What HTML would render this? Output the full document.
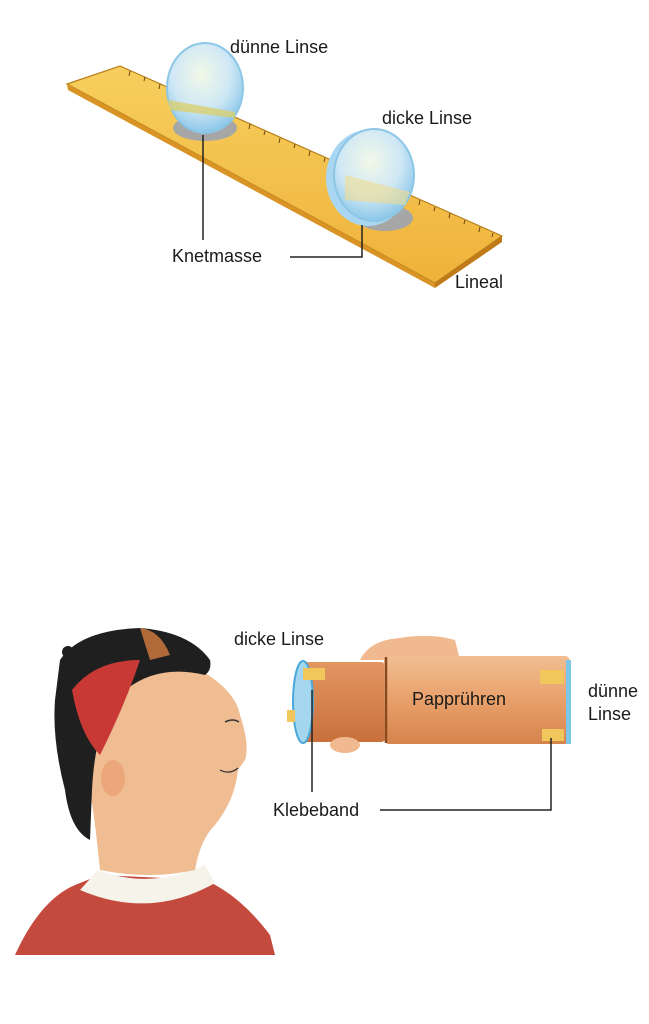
<!DOCTYPE html>
<html><head><meta charset="utf-8"><style>
html,body{margin:0;padding:0;background:#fff;}
svg{display:block}
text{font-family:"Liberation Sans",sans-serif;font-size:18px;fill:#1a1a1a;}
</style></head><body>
<svg width="649" height="1024" viewBox="0 0 649 1024" xmlns="http://www.w3.org/2000/svg">
<defs>
<linearGradient id="rul" x1="0" y1="0" x2="0" y2="1"><stop offset="0" stop-color="#f7cf5e"/><stop offset="1" stop-color="#efb23a"/></linearGradient>
<radialGradient id="lens" cx="0.45" cy="0.35" r="0.7"><stop offset="0" stop-color="#f2f8e8"/><stop offset="0.55" stop-color="#cfe8f5"/><stop offset="1" stop-color="#7fc0e6"/></radialGradient>
<linearGradient id="tube" x1="0" y1="0" x2="0" y2="1"><stop offset="0" stop-color="#f0bf92"/><stop offset="0.5" stop-color="#e9a06a"/><stop offset="1" stop-color="#d5844c"/></linearGradient>
<linearGradient id="tube2" x1="0" y1="0" x2="0" y2="1"><stop offset="0" stop-color="#e39662"/><stop offset="1" stop-color="#c9703c"/></linearGradient>
</defs>
<!-- ruler -->
<polygon points="67,84 120,66 502,236 435,283" fill="url(#rul)" stroke="#b8801c" stroke-width="1.2"/>
<polygon points="67,84 435,283 435,288 68,90" fill="#d99425"/>
<polygon points="435,283 502,236 502,242 435,288" fill="#c07a18"/>
<g stroke="#6a4a10" stroke-width="1">
<path d="M130,71 l-1,5 M145,77 l-1,4 M160,84 l-1,5 M250,124 l-1,5 M265,131 l-1,4 M280,138 l-1,5 M295,144 l-1,4 M310,151 l-1,5 M325,158 l-1,4 M420,200 l-1,5 M435,207 l-1,4 M450,213 l-1,5 M465,220 l-1,4 M480,227 l-1,5 M493,233 l-1,4"/>
</g>
<!-- clay -->
<ellipse cx="205" cy="128" rx="32" ry="13" fill="#a6a6a6"/>
<ellipse cx="385" cy="218" rx="28" ry="13" fill="#a6a6a6"/>
<!-- lenses -->
<ellipse cx="205" cy="88" rx="38" ry="45" fill="url(#lens)" stroke="#8cc6e6" stroke-width="2"/>
<path d="M168,100 L235,112 L235,118 L170,110 Z" fill="#d8d070" opacity="0.8"/>
<ellipse cx="368" cy="178" rx="42" ry="48" fill="#a9d6f0"/>
<ellipse cx="374" cy="175" rx="40" ry="46" fill="url(#lens)" stroke="#8cc6e6" stroke-width="2"/>
<path d="M345,175 L410,192 L405,205 L345,200 Z" fill="#eedc90" opacity="0.6"/>
<!-- labels top -->
<text x="230" y="53">dünne Linse</text>
<text x="382" y="124">dicke Linse</text>
<text x="172" y="262">Knetmasse</text>
<text x="455" y="288">Lineal</text>
<polyline points="203,135 203,240" fill="none" stroke="#222" stroke-width="1.5"/>
<polyline points="290,257 362,257 362,225" fill="none" stroke="#222" stroke-width="1.5"/>

<!-- bottom: boy -->
<path d="M15,955 Q40,900 75,885 L100,875 L205,880 Q240,895 270,935 L275,955 Z" fill="#c44a3e"/>
<path d="M80,890 Q150,920 215,883 L205,865 Q150,890 98,870 Z" fill="#f6f3ea"/>
<path d="M95,700 Q120,650 200,670 Q235,690 240,715 Q250,745 245,760 L238,770 Q235,800 215,825 Q200,840 195,870 Q150,880 100,870 Q95,820 90,790 Q85,740 95,700 Z" fill="#f0bc92"/>
<path d="M60,660 Q80,630 140,628 Q190,632 210,660 Q212,670 205,675 Q150,662 115,700 Q95,730 92,790 L90,840 Q70,830 65,790 Q52,740 55,700 Z" fill="#1f1f1f"/>
<circle cx="68" cy="652" r="6" fill="#1f1f1f"/>
<path d="M72,690 Q95,660 140,660 Q125,705 100,755 Q80,735 72,690 Z" fill="#c83834"/>
<path d="M140,628 Q160,630 170,655 L150,660 Z" fill="#b06a3a"/>
<ellipse cx="113" cy="778" rx="12" ry="18" fill="#eba77a"/>
<path d="M225,722 q8,-4 14,0" stroke="#333" fill="none" stroke-width="1.5"/>
<path d="M220,770 q10,5 18,-2" stroke="#333" fill="none" stroke-width="1.2"/>
<!-- tube -->
<path d="M360,660 Q370,640 400,638 Q430,633 455,640 L460,660 Z" fill="#f0b990"/>
<rect x="300" y="662" width="86" height="80" rx="5" fill="url(#tube2)"/>
<rect x="384" y="656" width="186" height="88" rx="5" fill="url(#tube)"/>
<line x1="386" y1="657" x2="386" y2="743" stroke="#8a4a20" stroke-width="2.5"/>
<ellipse cx="303" cy="702" rx="10" ry="41" fill="#a5d6ef" stroke="#4aa8d8" stroke-width="2"/>
<rect x="566" y="660" width="5" height="84" fill="#7cc6e8"/>
<rect x="303" y="668" width="22" height="12" fill="#f1c65a"/>
<rect x="540" y="670" width="24" height="14" fill="#f1c65a"/>
<rect x="542" y="729" width="22" height="12" fill="#f1c65a"/>
<rect x="287" y="710" width="8" height="12" fill="#f1c65a"/>
<ellipse cx="345" cy="745" rx="15" ry="8" fill="#f0b990"/>
<text x="234" y="645">dicke Linse</text>
<text x="412" y="705">Papprühren</text>
<text x="588" y="697">dünne</text>
<text x="588" y="720">Linse</text>
<text x="273" y="816">Klebeband</text>
<polyline points="312,690 312,792" fill="none" stroke="#222" stroke-width="1.5"/>
<polyline points="380,810 551,810 551,738" fill="none" stroke="#222" stroke-width="1.5"/>
</svg>
</body></html>
